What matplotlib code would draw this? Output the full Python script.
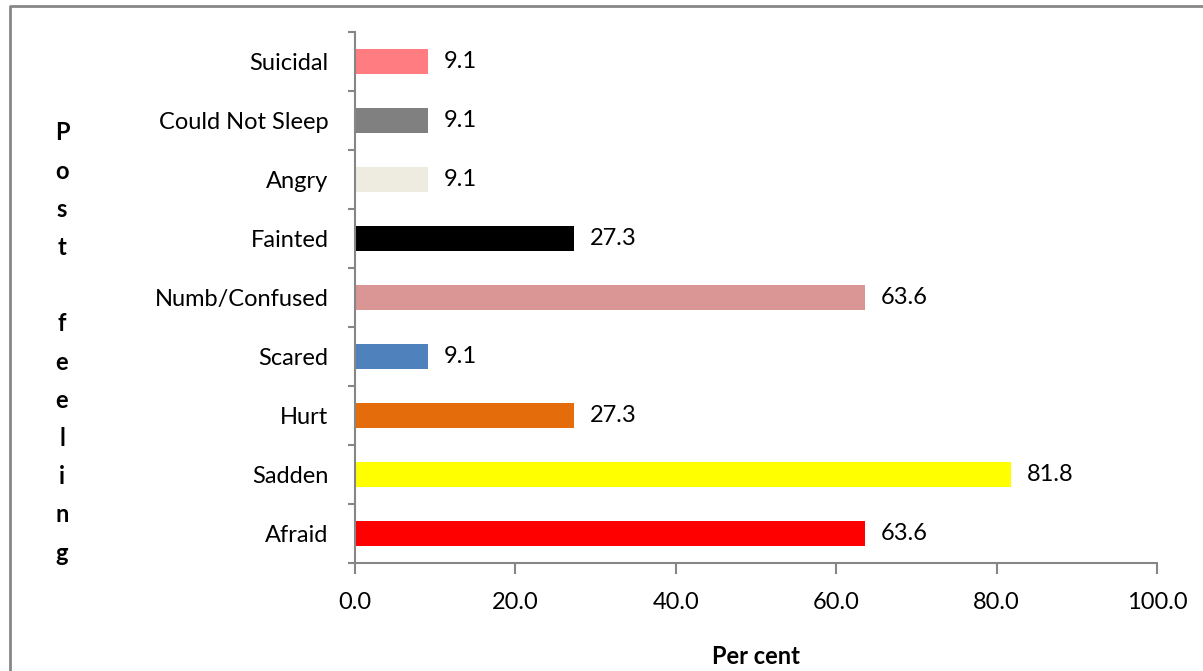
import matplotlib.pyplot as plt
from matplotlib.lines import Line2D

plt.rcParams['font.family'] = ['Lato', 'DejaVu Sans']

feelings = ['Afraid', 'Sadden', 'Hurt', 'Scared', 'Numb/Confused',
            'Fainted', 'Angry', 'Could Not Sleep', 'Suicidal']
percent = [63.6, 81.8, 27.3, 9.1, 63.6, 27.3, 9.1, 9.1, 9.1]
colors = ['#FF0000', '#FFFF00', '#E46C0A', '#4F81BD', '#D99694',
          '#000000', '#EEECE1', '#808080', '#FF7C80']
xticks = [0, 20, 40, 60, 80, 100]

fs = 17
fig = plt.figure(figsize=(12.03, 6.71), dpi=100)
ax = fig.add_axes([355 / 1203, 1 - 563 / 671, 802 / 1203, 531 / 671])

ypos = range(len(feelings))
ax.barh(ypos, percent, height=0.41, color=colors)
for y, v in zip(ypos, percent):
    ax.text(v + 2.0, y, f'{v:.1f}', va='center', ha='left', fontsize=fs)

axis_grey = '#868686'
ax.set_xlim(0, 100)
ax.set_ylim(-0.5, len(feelings) - 0.5)
ax.set_xticks(xticks)
ax.set_xticklabels([f'{t:.1f}' for t in xticks], fontsize=fs)
ax.set_yticks(list(ypos))
ax.set_yticklabels(feelings, fontsize=fs)
ax.set_yticks([i - 0.5 for i in range(len(feelings) + 1)], minor=True)
ax.tick_params(axis='y', which='major', length=0, pad=19)
ax.tick_params(axis='y', which='minor', length=5, width=1.5, color=axis_grey)
ax.tick_params(axis='x', length=8, width=1.5, color=axis_grey, pad=13)
for s in ['top', 'right']:
    ax.spines[s].set_visible(False)
for s in ['left', 'bottom']:
    ax.spines[s].set_color(axis_grey)
    ax.spines[s].set_linewidth(1.5)

ax.set_xlabel('Per cent', fontsize=fs, fontweight='bold', labelpad=23)
fig.text(62 / 1203, 1 - 343 / 671, '\n'.join('Post feeling'),
         ha='center', va='center', fontsize=fs, fontweight='bold',
         linespacing=1.80)

# outer chart frame
fig.add_artist(Line2D([10 / 1203, 10 / 1203, 1.0], [0.0, 1 - 6 / 671, 1 - 6 / 671],
                      transform=fig.transFigure, color='#878787', lw=2))

fig.savefig('out.png', dpi=100)
